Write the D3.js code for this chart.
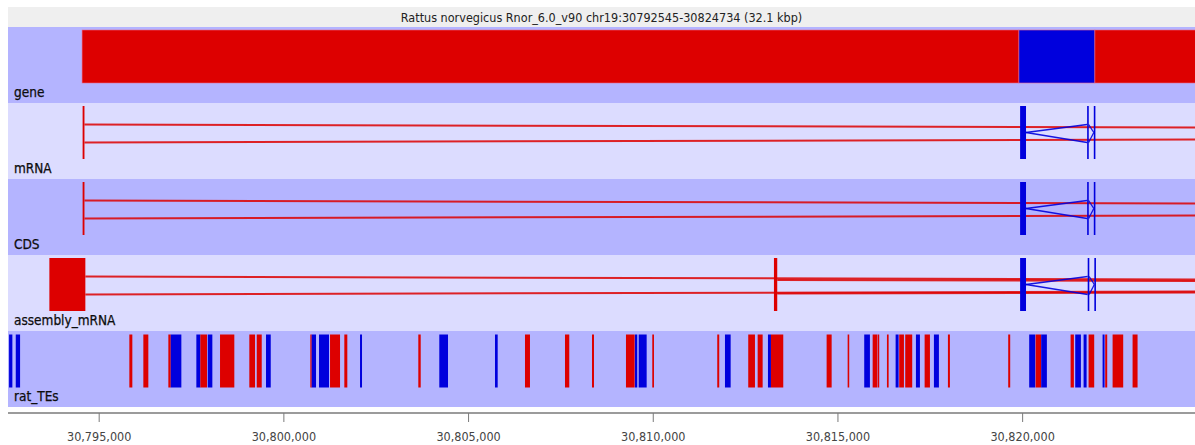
<!DOCTYPE html>
<html lang="en">
  <head>
    <meta charset="utf-8">
    <title>chr19 region</title>
    <script src="https://d3js.org/d3.v7.min.js"></script>
    <style>
      body { margin: 0; background: white; }
    </style>
  </head>
  <body>
    <div id="browser"></div>
    <script>
      // region shown (bp)
      var region = [30792545, 30824734];
      var titleText = "Rattus norvegicus Rnor_6.0_v90 chr19:30792545-30824734 (32.1 kbp)";
      var tickValues = [30795000, 30800000, 30805000, 30810000, 30815000, 30820000];
      var trackNames = ["gene", "mRNA", "CDS", "assembly_mRNA", "rat_TEs"];

      // gene track: [start, end, strand]
      var geneParts = [
        [30794550, 30819913, "+"],
        [30819913, 30821970, "-"],
        [30821970, 30824734, "+"]
      ];

      // transcript models: exons and joins
      var mrnaExons = [
        [30794565, 30794615, "+"],
        [30819945, 30820105, "-"],
        [30821760, 30821800, "-"],
        [30821940, 30821980, "-"]
      ];
      var mrnaJoins = [
        [30794615, 30824734, "+", "pair"],
        [30820105, 30821760, "-", "open"],
        [30821800, 30821940, "-", "close"]
      ];
      var cdsExons = mrnaExons;
      var cdsJoins = mrnaJoins;
      var asmExons = [
        [30793665, 30794639, "+"],
        [30813281, 30813370, "+"],
        [30819945, 30820105, "-"],
        [30821775, 30821815, "-"],
        [30821955, 30821995, "-"]
      ];
      var asmJoins = [
        [30794639, 30824734, "+", "pair"],
        [30813370, 30824734, "+", "pair"],
        [30820105, 30821775, "-", "open"],
        [30821815, 30821955, "-", "close"]
      ];

      // rat_TEs: start, end, strand
      var teStart = [30792574, 30792755, 30795830, 30796209, 30796886, 30796951, 30797644, 30797752, 30797952, 30798285,
        30799078, 30799279, 30799530, 30800730, 30800767, 30800965, 30801263, 30801650, 30802075, 30803653,
        30804221, 30805729, 30806541, 30807624, 30808355, 30809275, 30809518, 30809619, 30809987, 30811746,
        30811955, 30812585, 30812840, 30813119, 30813200, 30814707, 30815276, 30815725, 30815953, 30816088,
        30816340, 30816575, 30816672, 30816835, 30817125, 30817360, 30817612, 30817991, 30819623, 30820191,
        30820364, 30820516, 30821312, 30821437, 30821664, 30821799, 30822178, 30822249, 30822449, 30822990];
      var teEnd = [30792663, 30792872, 30795911, 30796344, 30796951, 30797238, 30797752, 30797933, 30798077, 30798672,
        30799233, 30799414, 30799658, 30800767, 30800884, 30801236, 30801534, 30801731, 30802129, 30803718,
        30804457, 30805802, 30806676, 30807740, 30808409, 30809510, 30809581, 30809835, 30810033, 30811800,
        30812109, 30812767, 30812975, 30813200, 30813533, 30814843, 30815319, 30815879, 30816077, 30816131,
        30816386, 30816656, 30816800, 30817024, 30817233, 30817504, 30817747, 30818045, 30819677, 30820354,
        30820516, 30820670, 30821401, 30821591, 30821745, 30821951, 30822232, 30822303, 30822736, 30823125];
      var teStrand = ["-", "-", "+", "+", "+", "-", "-", "+", "-", "+",
        "+", "+", "-", "+", "-", "-", "+", "+", "-", "+",
        "-", "-", "+", "+", "+", "+", "-", "-", "+", "+",
        "-", "+", "+", "-", "+", "+", "+", "-", "+", "+",
        "+", "-", "+", "+", "-", "+", "-", "+", "+", "-",
        "+", "-", "+", "-", "-", "+", "-", "+", "+", "+"];

      var W = 1195, H = 445;
      var left = 8, trackTop = 27, trackH = 76;
      var featTop = 3, featH = 53;
      var bgColors = ["#b4b4ff", "#dcdcff"];
      var strandColor = { "+": "#dd0000", "-": "#0000dd" };

      var svg = d3.select("#browser").append("svg")
        .attr("width", W)
        .attr("height", H);

      var x = d3.scaleLinear().domain(region).range([left, 1197]);

      svg.append("defs").append("clipPath").attr("id", "clip")
        .append("rect").attr("x", left).attr("y", 0).attr("width", W - left).attr("height", H);

      // title bar
      svg.append("rect")
        .attr("x", left).attr("y", 7)
        .attr("width", W - left).attr("height", 20)
        .attr("fill", "#efefef");
      svg.append("text")
        .attr("x", (left + W) / 2)
        .attr("y", 22)
        .attr("text-anchor", "middle")
        .style("font-family", "'Liberation Sans Narrow', 'DejaVu Sans Condensed', sans-serif")
        .style("font-size", "12.5px")
        .attr("fill", "#222")
        .text(titleText);

      // track backgrounds
      var tracks = svg.selectAll("g.track")
        .data(trackNames)
        .join("g")
        .attr("class", "track")
        .attr("transform", function (d, i) { return "translate(0," + (trackTop + i * trackH) + ")"; });

      tracks.append("rect")
        .attr("x", left).attr("y", 0)
        .attr("width", W - left).attr("height", trackH)
        .attr("fill", function (d, i) { return bgColors[i % 2]; });

      var body = tracks.append("g").attr("clip-path", "url(#clip)");

      // gene
      d3.select(body.nodes()[0]).selectAll("rect.part")
        .data(geneParts)
        .join("rect")
        .attr("class", "part")
        .attr("x", function (d) { return x(d[0]); })
        .attr("y", featTop)
        .attr("width", function (d) { return x(d[1]) - x(d[0]); })
        .attr("height", featH)
        .attr("fill", function (d) { return strandColor[d[2]]; })
        .attr("stroke", "#e86a8a")
        .attr("stroke-width", 0.6);

      // lanes for joins: top and bottom y drift slightly across the view
      var laneTop = d3.scaleLinear().domain([84, 1195]).range([21.5, 24.5]);
      var laneBot = d3.scaleLinear().domain([84, 1195]).range([39.5, 36.5]);
      var chevMid = 29.5, chevTop = 21.5, chevBot = 39.5;

      function drawModel(g, exons, joins) {
        var pairCount = 0;
        joins.forEach(function (j) {
          var x0 = x(j[0]), x1 = x(j[1]);
          var col = strandColor[j[2]];
          var segs = [];
          if (j[3] === "pair") {
            var off = pairCount * 1.6;
            pairCount++;
            segs.push([[x0, laneTop(x0) + off], [x1, laneTop(x1) + off]]);
            segs.push([[x0, laneBot(x0) + off * 0.6], [x1, laneBot(x1) + off * 0.6]]);
          } else if (j[3] === "open") {
            segs.push([[x0, chevMid], [x1, chevTop]]);
            segs.push([[x0, chevMid], [x1, chevBot]]);
          } else {
            segs.push([[x0, chevTop], [x1, chevMid]]);
            segs.push([[x0, chevBot], [x1, chevMid]]);
          }
          segs.forEach(function (s) {
            g.append("path")
              .attr("d", d3.line()(s))
              .attr("fill", "none")
              .attr("stroke", col)
              .attr("stroke-opacity", j[2] === "+" ? 0.85 : 0.9)
              .attr("stroke-width", j[2] === "+" ? 2 : 1.3);
          });
        });
        g.selectAll("rect.exon")
          .data(exons)
          .join("rect")
          .attr("class", "exon")
          .attr("x", function (d) { return x(d[0]); })
          .attr("y", featTop)
          .attr("width", function (d) { return Math.max(1.6, x(d[1]) - x(d[0])); })
          .attr("height", featH)
          .attr("fill", function (d) { return strandColor[d[2]]; });
      }

      drawModel(d3.select(body.nodes()[1]), mrnaExons, mrnaJoins);
      drawModel(d3.select(body.nodes()[2]), cdsExons, cdsJoins);
      drawModel(d3.select(body.nodes()[3]), asmExons, asmJoins);

      // repeats
      var teData = teStart.map(function (s, i) { return [s, teEnd[i], teStrand[i]]; });
      d3.select(body.nodes()[4]).selectAll("rect.te")
        .data(teData)
        .join("rect")
        .attr("class", "te")
        .attr("x", function (d) { return x(d[0]); })
        .attr("y", featTop + 0.5)
        .attr("width", function (d) { return Math.max(1.2, x(d[1]) - x(d[0])); })
        .attr("height", featH)
        .attr("fill", function (d) { return strandColor[d[2]]; });

      // track labels
      tracks.append("text")
        .attr("x", 14)
        .attr("y", 70)
        .style("font-family", "'DejaVu Sans Condensed', 'DejaVu Sans', sans-serif")
        .style("font-size", "13.5px")
        .style("font-weight", "500")
        .attr("fill", "#0d0d0d")
        .attr("stroke", "#0d0d0d")
        .attr("stroke-width", 0.25)
        .text(function (d) { return d; });

      // ruler
      var axis = svg.append("g")
        .attr("transform", "translate(0,413)")
        .call(d3.axisBottom(x).tickValues(tickValues).tickFormat(d3.format(",")).tickSize(9).tickSizeOuter(0));
      axis.select(".domain").remove();
      axis.append("line")
        .attr("x1", left).attr("x2", W)
        .attr("y1", 0).attr("y2", 0)
        .attr("stroke", "#7a7a7a")
        .attr("stroke-width", 1.6);
      axis.selectAll(".tick line").attr("stroke", "#7a7a7a");
      axis.selectAll(".tick text")
        .attr("y", 19)
        .attr("fill", "#444")
        .style("font-family", "'Liberation Sans Narrow', 'DejaVu Sans Condensed', sans-serif")
        .style("font-size", "12.5px");
    </script>
  </body>
</html>
